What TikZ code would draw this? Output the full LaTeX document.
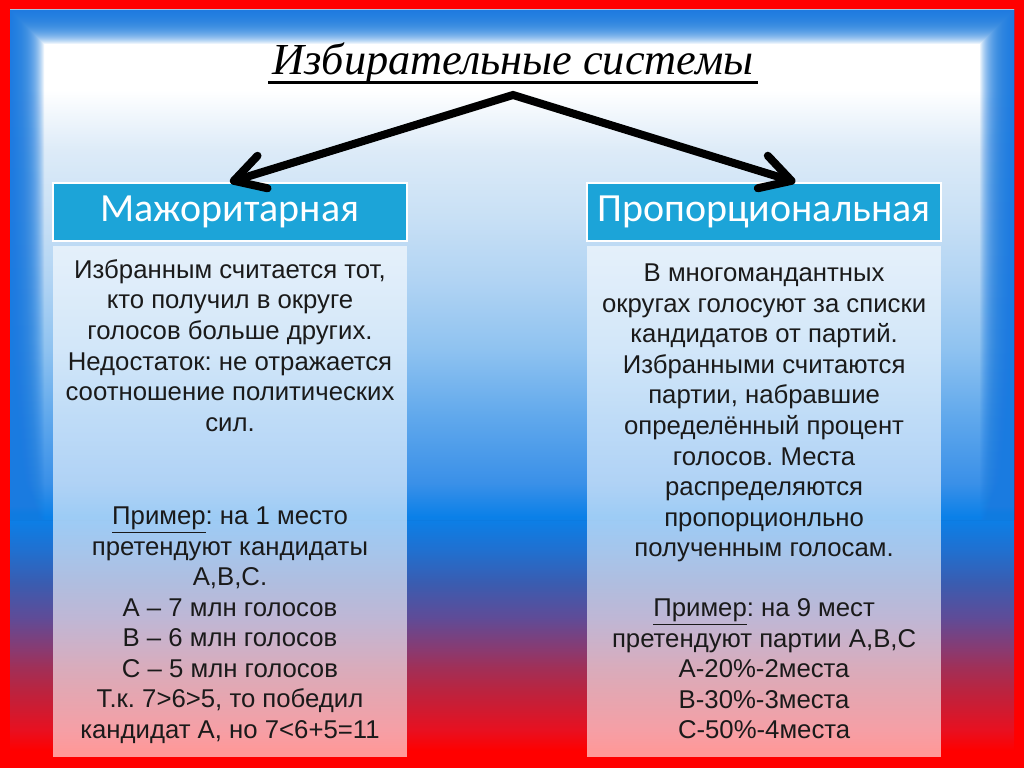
\documentclass[tikz,border=0pt]{standalone}
\usepackage{fontspec}
\setmainfont{Liberation Sans}
\newfontfamily\headfont{Carlito}
\newfontfamily\titlefont{Liberation Serif}
\usetikzlibrary{positioning,arrows.meta,shadows}
\frenchspacing

\definecolor{flagred}{HTML}{FF0000}
\definecolor{flagA}{HTML}{E81020}
\definecolor{flagB}{HTML}{D01A30}
\definecolor{flagC}{HTML}{BA2440}
\definecolor{flagD}{HTML}{A03058}
\definecolor{flagE}{HTML}{8A3A70}
\definecolor{flagF}{HTML}{5E4C98}
\definecolor{flagG}{HTML}{3A5CB0}
\definecolor{flagH}{HTML}{2070D0}
\definecolor{flagI}{HTML}{0A80E8}
\definecolor{flagJ}{HTML}{3A90E8}
\definecolor{flagK}{HTML}{60A8EC}
\definecolor{flagL}{HTML}{8EC2F0}
\definecolor{flagM}{HTML}{B0D3F3}
\definecolor{flagN}{HTML}{C8E0F5}
\definecolor{flagO}{HTML}{DDEBF8}
\definecolor{glowblue}{HTML}{1A7BE0}
\definecolor{headcyan}{HTML}{1CA4D8}
\definecolor{textblack}{HTML}{1A1A1A}

\pgfdeclareverticalshading{flagbg}{100bp}{color(0bp)=(flagred); color(25.5bp)=(flagred);
  color(26.87bp)=(flagA); color(28.21bp)=(flagB); color(29.55bp)=(flagC); color(31.08bp)=(flagD);
  color(32.22bp)=(flagE); color(34.43bp)=(flagF); color(36.7bp)=(flagG); color(38.9bp)=(flagH);
  color(41.11bp)=(flagI); color(43.38bp)=(flagJ); color(47.79bp)=(flagK); color(52.27bp)=(flagL);
  color(56.75bp)=(flagM); color(61.16bp)=(flagN); color(65.64bp)=(flagO); color(69.65bp)=(white);
  color(100bp)=(white)}

\begin{document}
\begin{tikzpicture}[x=0.025cm, y=-0.025cm, line width=5.7pt, line join=miter,
    >={Straight Barb[length=0.75cm, width=0.85cm, round]},
    head node/.style={rectangle, draw=white, line width=1.4pt, fill=headcyan, text=white, minimum width=8.85cm, minimum height=1.45cm, font=\headfont\fontsize{28.4}{30}\selectfont, drop shadow={shadow xshift=0.6pt, shadow yshift=-0.6pt, opacity=0.3}},
    text node/.style={rectangle, fill=white, fill opacity=0.6, text opacity=1, text=textblack, minimum width=8.85cm, minimum height=12.775cm, align=center, font=\fontsize{18.3}{21.7}\selectfont}]
                \useasboundingbox (0,0) rectangle (1024,768);
                % background: flag colours and a blue glow round the top
                \fill[flagred] (0,0) rectangle (1024,768);
                \shade[shading=flagbg] (10,10) rectangle (1014,758);
                \foreach \d in {1,...,34}
                    \fill[glowblue, opacity=0.09, even odd rule] (10,10) rectangle (1014,520) ({10+\d},{10+\d}) rectangle ({1014-\d},520);

                \node [font=\titlefont\itshape\fontsize{31.5}{36}\selectfont, inner sep=0pt, anchor=base](1) at (513,75){Избирательные системы};
                \draw[line width=2.1pt] ([yshift=-5pt]1.base west) -- ([yshift=-5pt]1.base east);

                \node [head node](2) at (230,212){Мажоритарная};
                \node [head node](3) [right=4.45cm of 2]{Пропорциональная};

                \node [text node](4) [below=0pt of 2]{Избранным считается тот,\\
                    кто получил в округе\\
                    голосов больше других.\\
                    Недостаток: не отражается\\
                    соотношение политических\\
                    сил.\\[45pt]
                    \underline{Пример}: на 1 место\\
                    претендуют кандидаты\\
                    А,В,С.\\
                    А – 7 млн голосов\\
                    В – 6 млн голосов\\
                    С – 5 млн голосов\\
                    Т.к. 7>6>5, то победил\\
                    кандидат А, но 7<6+5=11};
                \node [text node](5) [below=0pt of 3]{В многомандантных\\
                    округах голосуют за списки\\
                    кандидатов от партий.\\
                    Избранными считаются\\
                    партии, набравшие\\
                    определённый процент\\
                    голосов. Места\\
                    распределяются\\
                    пропорционльно\\
                    полученным голосам.\\[21pt]
                    \underline{Пример}: на 9 мест\\
                    претендуют партии А,В,С\\
                    А-20\%-2места\\
                    В-30\%-3места\\
                    С-50\%-4места};

                \coordinate (a) at (513,95);
                \draw[<->] (2.north) -- (a) -- ([xshift=0.78cm]3.north);
            \end{tikzpicture}
\end{document}
